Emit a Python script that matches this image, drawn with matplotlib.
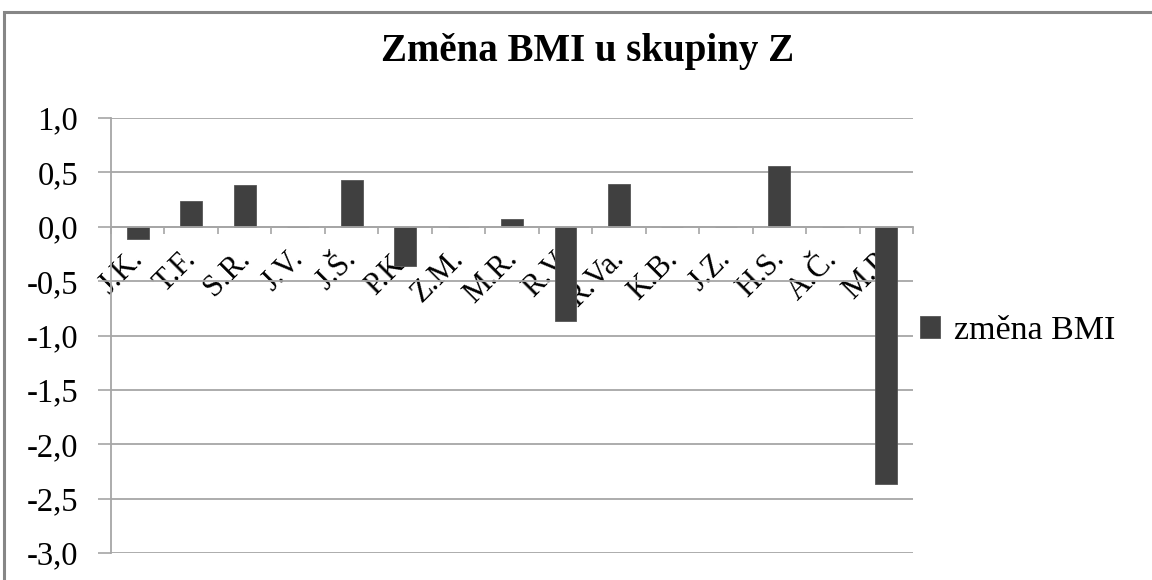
import matplotlib.pyplot as plt
import matplotlib.transforms as mtransforms
from matplotlib.patches import Rectangle
import numpy as np

names = ["J.K.", "T.F.", "S.R.", "J.V.", "J.Š.", "P.K.", "Z.M.", "M.R.",
         "R.V.", "R.Va.", "K.B.", "J.Z.", "H.S.", "A.Č.", "M.P."]
bmi_change = [-0.11, 0.24, 0.38, 0.0, 0.43, -0.36, 0.0, 0.075,
              -0.87, 0.39, 0.0, 0.0, 0.555, 0.0, -2.37]
y_ticks = [1.0, 0.5, 0.0, -0.5, -1.0, -1.5, -2.0, -2.5, -3.0]
y_labels = ["1,0", "0,5", "0,0", "-0,5", "-1,0", "-1,5", "-2,0", "-2,5", "-3,0"]

plt.rcParams['font.family'] = ['Liberation Serif', 'DejaVu Serif']
grid_col = '#a6a6a6'

fig = plt.figure(figsize=(11.52, 5.8), dpi=100)
ax = fig.add_axes([111/1152, 1 - 553/580, (913 - 111)/1152, (553 - 118)/580])

x = np.arange(len(names))
bars = ax.bar(x, bmi_change, width=0.41, color='#404040', edgecolor='#555555',
              linewidth=0.6, label='změna BMI', zorder=3)

ax.set_xlim(-0.5, len(names) - 0.5)
ax.set_ylim(-3.0, 1.0)

# y axis
ax.set_yticks(y_ticks, y_labels)
ax.tick_params(axis='y', length=9.5, width=1.2, color=grid_col, pad=14, labelsize=23.5)
ax.yaxis.grid(True, color=grid_col, linewidth=1.3, zorder=0)

# x axis at zero
ax.spines['bottom'].set_position(('data', 0))
for s in ['top', 'right']:
    ax.spines[s].set_visible(False)
ax.spines['bottom'].set_color(grid_col)
ax.spines['left'].set_color(grid_col)
ax.spines['bottom'].set_linewidth(1.3)
ax.spines['left'].set_linewidth(1.3)
ax.spines['bottom'].set_zorder(4)

ax.set_xticks(x, names, rotation=45, ha='right', va='baseline', rotation_mode='anchor')
ax.set_xticks(np.arange(len(names) + 1) - 0.5, minor=True)
ax.tick_params(axis='x', which='major', length=0, pad=24, labelsize=22)
ax.tick_params(axis='x', which='minor', length=5, width=1.2, color=grid_col, direction='out')
shift = mtransforms.ScaledTranslation(6/100, 0, fig.dpi_scale_trans)
for lbl in ax.get_xticklabels():
    lbl.set_transform(lbl.get_transform() + shift)

fig.text(588/1152, 1 - 51/580, "Změna BMI u skupiny Z", ha='center', va='center',
         fontsize=28, fontweight='bold')

leg = ax.legend(loc='center left', bbox_to_anchor=(920/1152, 1 - 331/580),
                bbox_transform=fig.transFigure, frameon=False, fontsize=24.5,
                handlelength=0.6, handleheight=0.6, handletextpad=0.4, borderpad=0,
                borderaxespad=0)

# outer chart frame
fig.patches.append(Rectangle((4/1152, -0.2), 1.2, 1.2 - 12/580, transform=fig.transFigure,
                             fill=False, edgecolor='#868686', linewidth=2.2))

fig.savefig('out.png', dpi=100)
